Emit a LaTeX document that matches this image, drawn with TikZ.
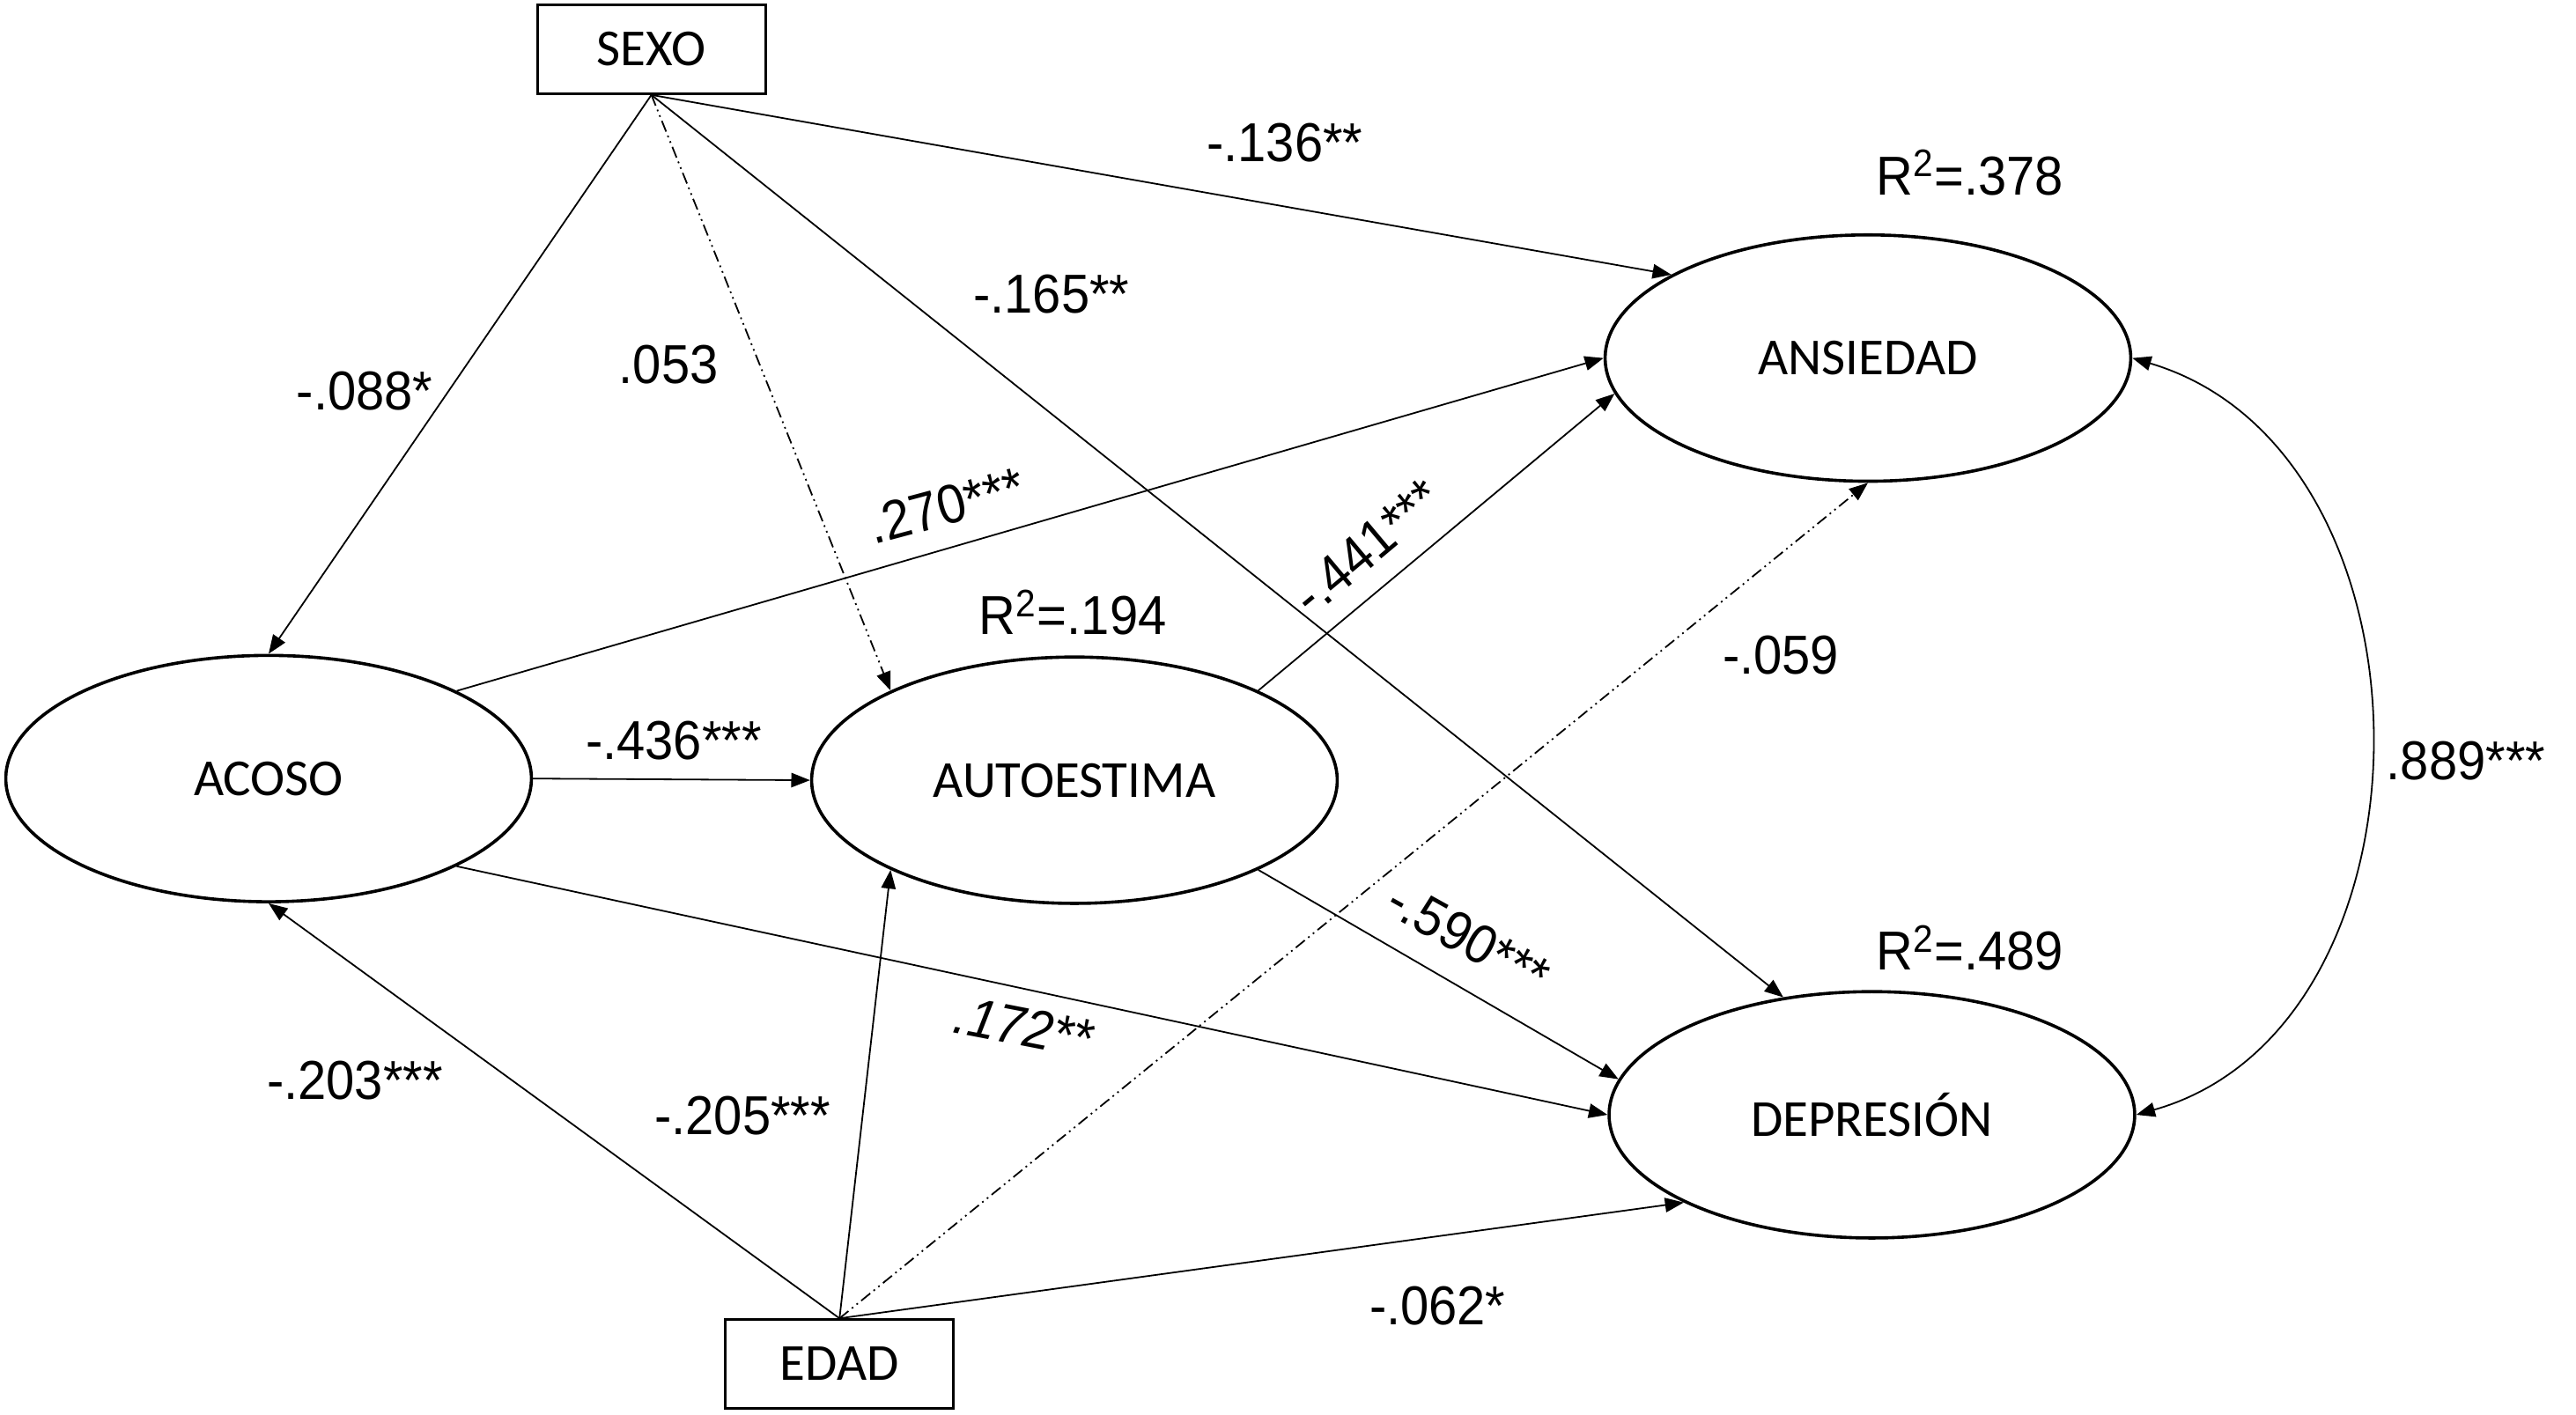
\documentclass[tikz,border=0pt]{standalone}
\usepackage{fontspec}
\setmainfont{Liberation Sans}
\newfontfamily\nodefont{Carlito}
\newfontfamily\labfont[FakeStretch=0.93]{Liberation Sans}
\usetikzlibrary{shapes.geometric,arrows.meta}
\begin{document}
\begin{tikzpicture}[x=0.02cm,y=-0.02cm,
  latent/.style={ellipse,draw,line width=1.1pt,minimum width=6.4cm,minimum height=3cm,inner sep=0pt,
    font=\nodefont\fontsize{18}{20}\selectfont},
  observed/.style={rectangle,draw,line width=0.9pt,minimum width=2.78cm,minimum height=1.08cm,inner sep=0pt,
    font=\nodefont\fontsize{18}{20}\selectfont},
  arr/.style={-{Triangle[length=6.5pt,width=5pt]},line width=0.55pt},
  arrboth/.style={{Triangle[length=6.5pt,width=5pt]}-{Triangle[length=6.5pt,width=5pt]},line width=0.55pt},
  nsarr/.style={arr,dash pattern=on 4pt off 1.5pt on 0.6pt off 1.5pt on 0.6pt off 1.5pt},
  coef/.style={font=\labfont\fontsize{19}{21}\selectfont,inner sep=0pt},
]
\fill[white] (0,0) rectangle (1568,861);
\useasboundingbox (0,0) rectangle (1568,861);

% nodes
\node[observed] (sexo) at (396.5,30) {SEXO};
\node[observed] (edad) at (511,830.4) {EDAD};
\node[latent] (acoso) at (163.5,474) {ACOSO};
\node[latent] (autoestima) at (654,475) {AUTOESTIMA};
\node[latent] (ansiedad) at (1137,218) {ANSIEDAD};
\node[latent] (depresion) at (1139.4,678.7) {DEPRESIÓN};

% paths
\draw[arr] (sexo.south) -- (acoso.north);
\draw[nsarr] (sexo.south) -- (autoestima.154);
\draw[arr] (sexo.south) -- (ansiedad.157);
\draw[arr] (sexo.south) -- (depresion.127);
\draw[arr] (acoso.25) -- (ansiedad.west);
\draw[arr] (acoso.east) -- (autoestima.west);
\draw[arr] (acoso.335) -- (depresion.west);
\draw[arr] (autoestima.26) -- (ansiedad.188);
\draw[arr] (autoestima.334) -- (depresion.172);
\draw[arr] (edad.north) -- (acoso.south);
\draw[arr] (edad.north) -- (autoestima.206);
\draw[nsarr] (edad.north) -- (ansiedad.south);
\draw[arr] (edad.north) -- (depresion.205);
\draw[arrboth] (ansiedad.east) .. controls (1490,275) and (1490,625) .. (depresion.east);

% coefficients
\node[coef] (l136) at (782,87) {-.136**};
\node[coef] (l165) at (640,179) {-.165**};
\node[coef] (l053) at (407,222) {.053};
\node[coef] (l088) at (222,238) {-.088*};
\node[coef,rotate=15] (l270) at (576,308) {.270***};
\node[coef,rotate=40] (l441) at (832,333) {-.441***};
\node[coef] (r194) at (653,373) {R\textsuperscript{2}=.194};
\node[coef] (r378) at (1199,105) {R\textsuperscript{2}=.378};
\node[coef] (r489) at (1199,577) {R\textsuperscript{2}=.489};
\node[coef] (l059) at (1084,399) {-.059};
\node[coef] (l889) at (1501,463) {.889***};
\node[coef] (l436) at (410,451) {-.436***};
\node[coef,rotate=-29] (l590) at (894,571) {-.590***};
\node[coef,rotate=-11] (l172) at (623,625) {\itshape .172**};
\node[coef] (l203) at (216,658) {-.203***};
\node[coef] (l205) at (452,679) {-.205***};
\node[coef] (l062) at (875,795) {-.062*};
\end{tikzpicture}
\end{document}
